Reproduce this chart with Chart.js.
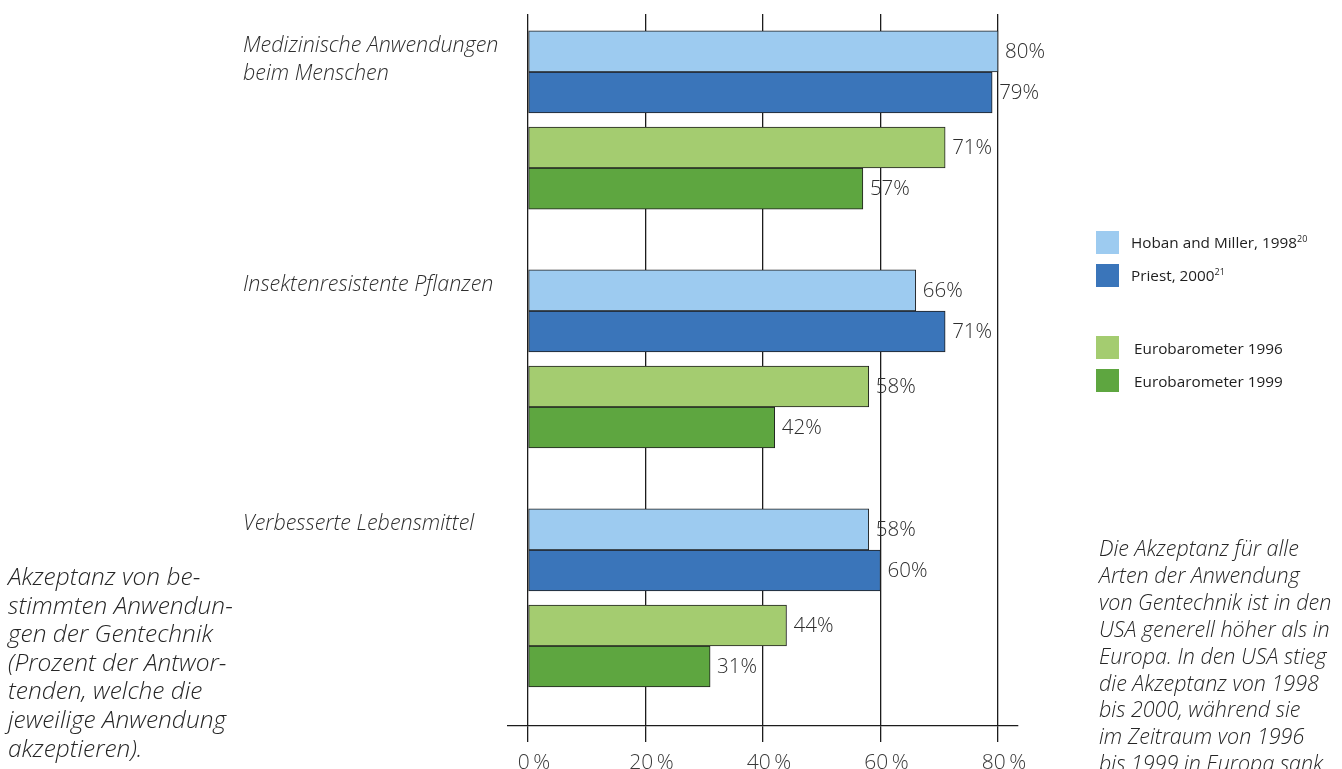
<!DOCTYPE html>
<html lang="de">
<head>
<meta charset="utf-8">
<title>Akzeptanz von Anwendungen der Gentechnik</title>
<script src="https://cdn.jsdelivr.net/npm/chart.js@4.4.1/dist/chart.umd.min.js"></script>
<style>
  html, body { margin: 0; padding: 0; background: #fff; }
  body { width: 1342px; height: 769px; position: relative; overflow: hidden; font-family: "Open Sans", sans-serif; color: #262626; }
  #wrap { position: absolute; left: 0; top: 0; width: 1342px; height: 769px; }
  .caption { position: absolute; font-style: italic; font-weight: 300; white-space: nowrap; }
  #caption-left { left: 8px; top: 562px; font-size: 24.5px; line-height: 28.6px; }
  #caption-right { left: 1099px; top: 535px; font-size: 21.5px; line-height: 26.9px; }
  #legend { position: absolute; left: 1096px; top: 231px; font-size: 15.3px; color: #1e1e1e; }
  #legend .item { position: absolute; left: 0; height: 23px; display: flex; align-items: center; white-space: nowrap; }
  #legend .box { width: 23px; height: 23px; margin-right: 12px; }
  #legend sup { font-size: 9px; }
</style>
</head>
<body>
<div id="wrap"><canvas id="chart" width="1342" height="769"></canvas></div>
<div id="legend"></div>
<div class="caption" id="caption-left">Akzeptanz von be-<br>stimmten Anwendun-<br>gen der Gentechnik<br>(Prozent der Antwor-<br>tenden, welche die<br>jeweilige Anwendung<br>akzeptieren).</div>
<div class="caption" id="caption-right">Die Akzeptanz für alle<br>Arten der Anwendung<br>von Gentechnik ist in den<br>USA generell höher als in<br>Europa. In den USA stieg<br>die Akzeptanz von 1998<br>bis 2000, während sie<br>im Zeitraum von 1996<br>bis 1999 in Europa sank.</div>
<script>
// Daten
const anwendungen = [['Medizinische Anwendungen', 'beim Menschen'], 'Insektenresistente Pflanzen', 'Verbesserte Lebensmittel'];
const hobanMiller1998 = [80, 66, 58];
const priest2000 = [79, 71, 60];
const eurobarometer1996 = [71, 58, 44];
const eurobarometer1999 = [57, 42, 31];
const xTicks = [0, 20, 40, 60, 80];

// Reihenfolge der Balken je Anwendung; dicke steuert den Abstand zwischen USA- und Europa-Paar
const serien = [
    { name: 'Hoban and Miller, 1998', sup: '20', werte: hobanMiller1998, farbe: '#9dcbf0', dicke: 45.7 },
    { name: 'Priest, 2000', sup: '21', werte: priest2000, farbe: '#3a75ba', dicke: 55 },
    { name: 'Eurobarometer 1996', sup: '', werte: eurobarometer1996, farbe: '#a4cc70', dicke: 55 },
    { name: 'Eurobarometer 1999', sup: '', werte: eurobarometer1999, farbe: '#5ea640', dicke: 45.7 }
];

const textFarbe = '#2e2e2e';
const gitterFarbe = '#1c1c1c';

// Prozentwerte rechts neben den Balken
const wertePlugin = {
    id: 'werte',
    afterDatasetsDraw(chart) {
        const ctx = chart.ctx;
        ctx.save();
        ctx.font = '300 20.5px "Open Sans"';
        ctx.fillStyle = textFarbe;
        ctx.textBaseline = 'middle';
        ctx.textAlign = 'left';
        chart.data.datasets.forEach((ds, i) => {
            chart.getDatasetMeta(i).data.forEach((bar, j) => {
                ctx.fillText(ds.data[j].x + '%', bar.x + 7, bar.y + 1);
            });
        });
        ctx.restore();
    }
};

const ctx = document.getElementById('chart').getContext('2d');
const chart = new Chart(ctx, {
    type: 'bar',
    data: {
        datasets: serien.map(s => ({
            label: s.name,
            data: s.werte.map((v, i) => ({ x: v, y: i })),
            backgroundColor: s.farbe,
            borderColor: '#1f1f1f',
            borderWidth: 1,
            borderSkipped: false,
            barThickness: s.dicke,
            maxBarThickness: 41
        }))
    },
    options: {
        indexAxis: 'y',
        responsive: false,
        animation: false,
        layout: { padding: { left: 243, right: 324, top: 14, bottom: 0 } },
        plugins: {
            legend: { display: false },
            tooltip: { enabled: false }
        },
        scales: {
            x: {
                type: 'linear',
                min: -3.4,
                max: 83.4,
                afterBuildTicks: scale => { scale.ticks = xTicks.map(v => ({ value: v })); },
                afterFit: scale => { scale.height = 43; },
                grid: { color: gitterFarbe, lineWidth: 1.3, tickLength: 16, drawOnChartArea: true },
                border: { display: true, color: gitterFarbe, width: 1.3 },
                ticks: {
                    padding: 8,
                    labelOffset: 6,
                    color: '#3a3a3a',
                    font: { family: 'Open Sans', size: 21, weight: 300 },
                    callback: v => v + '\u2009%'
                }
            },
            y: {
                type: 'linear',
                reverse: true,
                offset: false,
                min: -0.4435,
                max: 2.5356,
                afterBuildTicks: scale => {
                    scale.ticks = anwendungen.map((a, i) => ({
                        value: i - 0.309 + (Array.isArray(a) ? (a.length - 1) * 0.0586 : 0)
                    }));
                },
                afterFit: scale => {
                    scale.width = 265;
                    scale.paddingTop = 0;
                    scale.paddingBottom = 0;
                },
                grid: { display: false },
                border: { display: false },
                ticks: {
                    crossAlign: 'far',
                    color: textFarbe,
                    font: { family: 'Open Sans', size: 21.5, weight: 300, style: 'italic', lineHeight: 1.3 },
                    callback: (v, i) => anwendungen[i]
                }
            }
        }
    },
    plugins: [wertePlugin]
});

// Legende
function legendeErzeugen() {
    const legende = document.getElementById('legend');
    const zeilen = [0, 33, 105, 138];
    serien.forEach((s, i) => {
        const div = document.createElement('div');
        div.className = 'item';
        div.style.top = zeilen[i] + 'px';
        const box = document.createElement('span');
        box.className = 'box';
        box.style.background = s.farbe;
        if (i > 1) box.style.marginRight = '15px';
        div.appendChild(box);
        const text = document.createElement('span');
        text.innerHTML = s.name + (s.sup ? '<sup>' + s.sup + '</sup>' : '');
        div.appendChild(text);
        legende.appendChild(div);
    });
}
legendeErzeugen();
</script>
</body>
</html>
